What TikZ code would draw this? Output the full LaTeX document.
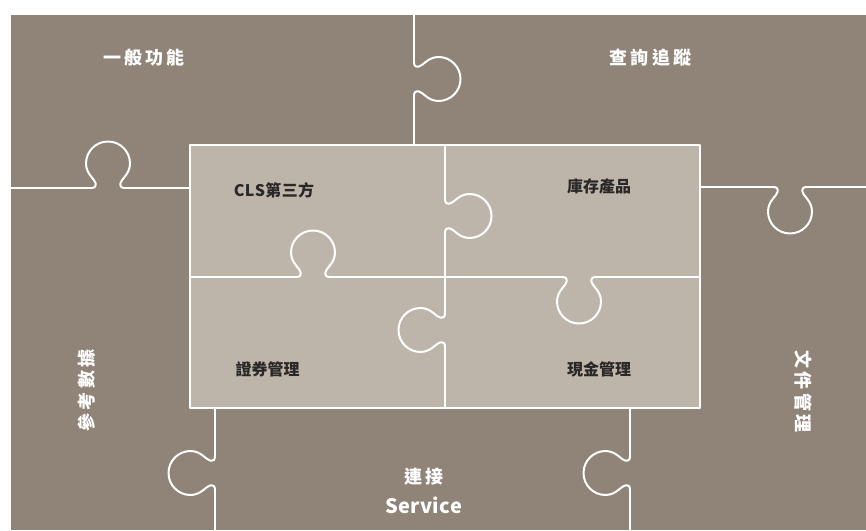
\documentclass[tikz,border=0pt]{standalone}
\usepackage{fontspec}
\setmainfont{Noto Sans CJK TC}
\definecolor{outerg}{HTML}{908378}
\definecolor{innerg}{HTML}{BDB5AA}
\definecolor{darktxt}{HTML}{2A2727}
\newcommand\kb{\kern3.3pt}
\newcommand\ks{\kern0.4pt}
\tikzset{
  puz/.style={draw=white, line width=2pt, line cap=round, line join=round},
  knob/.pic={\draw[puz] (-17,0) .. controls (-13,0) and (-12,1.5) .. (-12.5,5)
     .. controls (-13.2,9) and (-22,14) .. (-22,24.5)
     arc[start angle=180, end angle=0, radius=22]
     .. controls (22,14) and (13.2,9) .. (12.5,5)
     .. controls (12,1.5) and (13,0) .. (17,0);},
  bigtxt/.style={text=white, font=\bfseries\fontsize{18}{20}\selectfont, inner sep=0pt},
  smalltxt/.style={text=darktxt, font=\bfseries\fontsize{16}{18}\selectfont, inner sep=0pt}
}
\begin{document}
\begin{tikzpicture}[x=1pt, y=1pt]
\useasboundingbox (0,0) rectangle (866,530);
% outer gray field
\fill[outerg] (11,0) rectangle (866,515);
% inner light field
\fill[innerg] (190,122) rectangle (700,385);
% inner border
\draw[puz] (190,122) rectangle (700,385);
% outer top vertical
\draw[puz] (414,515) -- (414,468);
\pic[rotate=-90] at (414,451) {knob};
\draw[puz] (414,434) -- (414,385);
% outer left horizontal
\draw[puz] (11,342) -- (91,342);
\pic at (108,342) {knob};
\draw[puz] (125,342) -- (190,342);
% outer right horizontal
\draw[puz] (700,343) -- (773,343);
\pic[rotate=180] at (790,343) {knob};
\draw[puz] (807,343) -- (866,343);
% outer bottom-left vertical
\draw[puz] (215,122) -- (215,74);
\pic[rotate=90] at (215,57) {knob};
\draw[puz] (215,40) -- (215,0);
% outer bottom-right vertical
\draw[puz] (630,122) -- (630,74);
\pic[rotate=90] at (630,57) {knob};
\draw[puz] (630,40) -- (630,0);
% inner vertical
\draw[puz] (445,385) -- (445,331);
\pic[rotate=-90] at (445,314) {knob};
\draw[puz] (445,297) -- (445,217);
\pic[rotate=90] at (445,200) {knob};
\draw[puz] (445,183) -- (445,122);
% inner horizontal
\draw[puz] (190,253) -- (296,253);
\pic at (313,253) {knob};
\draw[puz] (330,253) -- (562,253);
\pic[rotate=180] at (579,253) {knob};
\draw[puz] (596,253) -- (700,253);
% labels
\node[bigtxt] (gen) at (144,472) {一\kb 般\kb 功\kb 能};
\node[bigtxt] (qry) at (650.5,472) {查\kb 詢\kb 追\kb 蹤};
\node[bigtxt, rotate=90] (ref) at (87,139.5) {參\kb 考\kb 數\kb 據};
\node[bigtxt, rotate=-90] (doc) at (803,138.5) {文\kb 件\kb 管\kb 理};
\node[bigtxt] (con) at (424,53) {連\kb 接};
\node[bigtxt, font=\bfseries\fontsize{20}{22}\selectfont] (svc) at (424,25) {S\ks e\ks r\ks v\ks i\ks c\ks e};
\node[smalltxt] (cls) at (274,340) {C\ks L\ks S\ks 第\ks 三\ks 方};
\node[smalltxt] (inv) at (599,343.5) {庫存產品};
\node[smalltxt] (sec) at (267.5,161) {證券管理};
\node[smalltxt] (cash) at (599,161) {現金管理};
\end{tikzpicture}
\end{document}
